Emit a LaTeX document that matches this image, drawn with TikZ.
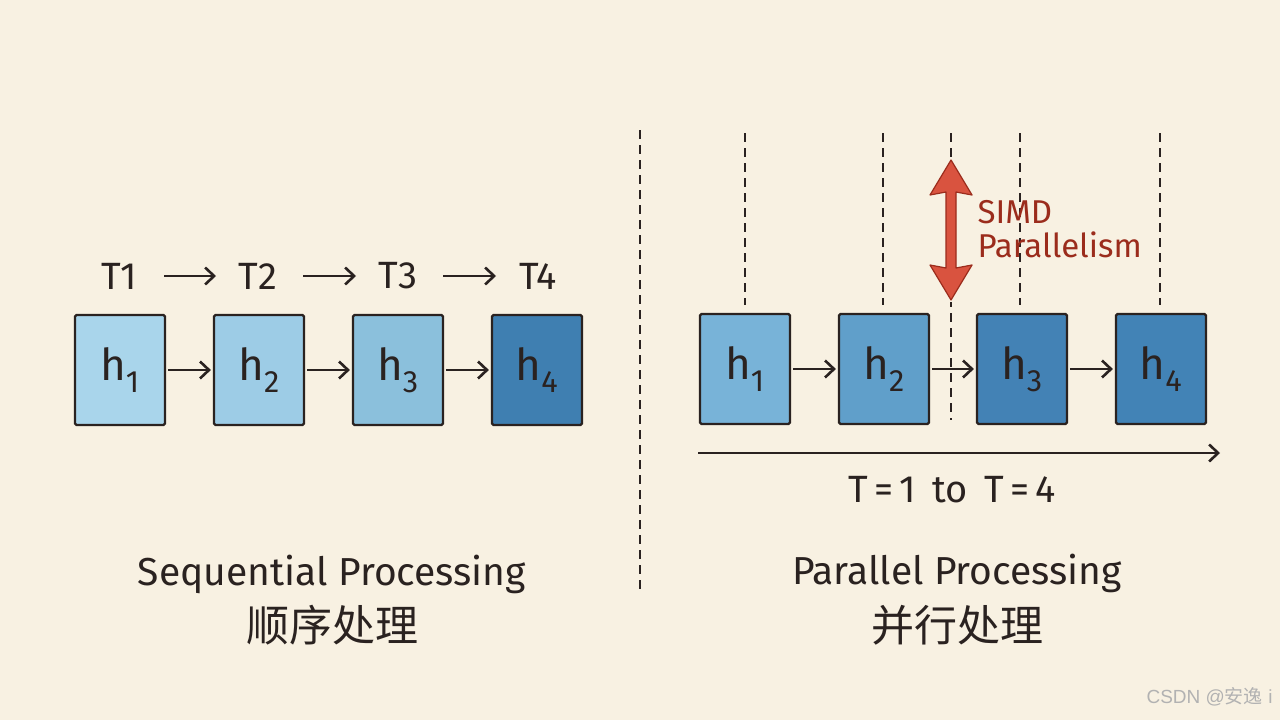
\documentclass[tikz,border=0pt]{standalone}
\usepackage{fontspec}
\setmainfont{Fira Sans}
\newfontfamily\cjk{Noto Sans CJK SC}
\newfontfamily\wmfont{Liberation Sans}
\usepackage{xcolor}
\usepackage{tikz}
\usetikzlibrary{positioning}
\usetikzlibrary{arrows.meta}

\definecolor{paper}{HTML}{F8F1E2}
\definecolor{ink}{HTML}{2A2220}
\definecolor{simdred}{HTML}{D9533F}
\definecolor{simdtext}{HTML}{9B2C1C}
\definecolor{sa}{HTML}{A9D5EB}
\definecolor{sb}{HTML}{9DCCE6}
\definecolor{sc}{HTML}{8BC0DC}
\definecolor{sd}{HTML}{3F7FB1}
\definecolor{pa}{HTML}{78B3D8}
\definecolor{pb}{HTML}{609FCA}
\definecolor{pc}{HTML}{4382B5}
\definecolor{pd}{HTML}{4283B6}

\tikzset{
  hbox/.style={draw=ink, line width=2.2pt, rounded corners=1.5pt,
    minimum width=90pt, minimum height=110pt, inner sep=0pt,
    font=\fontsize{44}{48}\selectfont, text=ink},
  link/.style={draw=ink, line width=2.6pt, -{Straight Barb[length=9pt,width=17pt,line width=2.6pt]}},
  guide/.style={draw=ink, line width=1.8pt, dash pattern=on 9pt off 6pt},
  tlabel/.style={font=\fontsize{38}{42}\selectfont, text=ink}
}

\begin{document}
\begin{tikzpicture}[x=1pt,y=-1pt]
      \fill[paper] (0,0) rectangle (1280,720);
      \useasboundingbox (0,0) rectangle (1280,720);

      % separator
      \draw[guide] (640,130) -- (640,590);

      % sequential side
      \node[tlabel] (t1) at (119,276) {T1};
      \node[tlabel] (t2) at (258,276) {T2};
      \node[tlabel] (t3) at (398,276) {T3};
      \node[tlabel] (t4) at (538,276) {T4};
      \draw[link] ([xshift=45pt]t1.center) -- ([xshift=-42pt]t2.center);
      \draw[link] ([xshift=45pt]t2.center) -- ([xshift=-42pt]t3.center);
      \draw[link] ([xshift=45pt]t3.center) -- ([xshift=-42pt]t4.center);

      \node[hbox, fill=sa] (s1) at (120,370) {h\textsubscript{1}};
      \node[hbox, fill=sb] (s2) at (259,370) {h\textsubscript{2}};
      \node[hbox, fill=sc] (s3) at (398,370) {h\textsubscript{3}};
      \node[hbox, fill=sd] (s4) at (537,370) {h\textsubscript{4}};
      \draw[link] ([xshift=2pt]s1.east) -- ([xshift=-2pt]s2.west);
      \draw[link] ([xshift=2pt]s2.east) -- ([xshift=-2pt]s3.west);
      \draw[link] ([xshift=2pt]s3.east) -- ([xshift=-2pt]s4.west);

      \node[font=\fontsize{39}{42}\selectfont, text=ink] (seq) at (332,574) {Sequential Processing};
      \node[font=\cjk\fontsize{43}{46}\selectfont, text=ink] (seqcn) at (332,625) {顺序处理};

      % parallel side
      \draw[guide] (745,133) -- (745,305);
      \draw[guide] (883,133) -- (883,305);
      \draw[guide] (951,133) -- (951,420);
      \draw[guide] (1020,133) -- (1020,305);
      \draw[guide] (1160,133) -- (1160,305);

      \node[hbox, fill=pa] (p1) at (745,369) {h\textsubscript{1}};
      \node[hbox, fill=pb] (p2) at (884,369) {h\textsubscript{2}};
      \node[hbox, fill=pc] (p3) at (1022,369) {h\textsubscript{3}};
      \node[hbox, fill=pd] (p4) at (1161,369) {h\textsubscript{4}};
      \draw[link] ([xshift=2pt]p1.east) -- ([xshift=-2pt]p2.west);
      \draw[link] ([xshift=2pt]p2.east) -- ([xshift=-2pt]p3.west);
      \draw[link] ([xshift=2pt]p3.east) -- ([xshift=-2pt]p4.west);

      % SIMD arrow
      \fill[paper] (928,158) rectangle (974,302);
      \draw[fill=simdred, draw=simdtext, line width=1.2pt, line join=round]
        (951,160) -- (972,195) -- (956,192) -- (956,268) -- (972,265)
        -- (951,300) -- (930,265) -- (946,268) -- (946,192) -- (930,195) -- cycle;
      \node[anchor=west, align=left, text=simdtext, font=\fontsize{33}{34}\selectfont]
        (simd) at (974,229) {SIMD\\Parallelism};

      \coordinate (tstart) at (698,453);
      \coordinate (tend) at (1220,453);
      \draw[link] (tstart) -- (tend);
      \node[tlabel] (trange) at (952,490) {T\,=\,1\, to\, T\,=\,4};

      \node[font=\fontsize{39}{42}\selectfont, text=ink] (par) at (957,573) {Parallel Processing};
      \node[font=\cjk\fontsize{43}{46}\selectfont, text=ink] (parcn) at (957,625) {并行处理};

      \node[anchor=east, text=black!30, font=\wmfont\fontsize{19}{22}\selectfont] (wm) at (1276,697) {CSDN @{\cjk 安逸} i};
    \end{tikzpicture}
\end{document}
